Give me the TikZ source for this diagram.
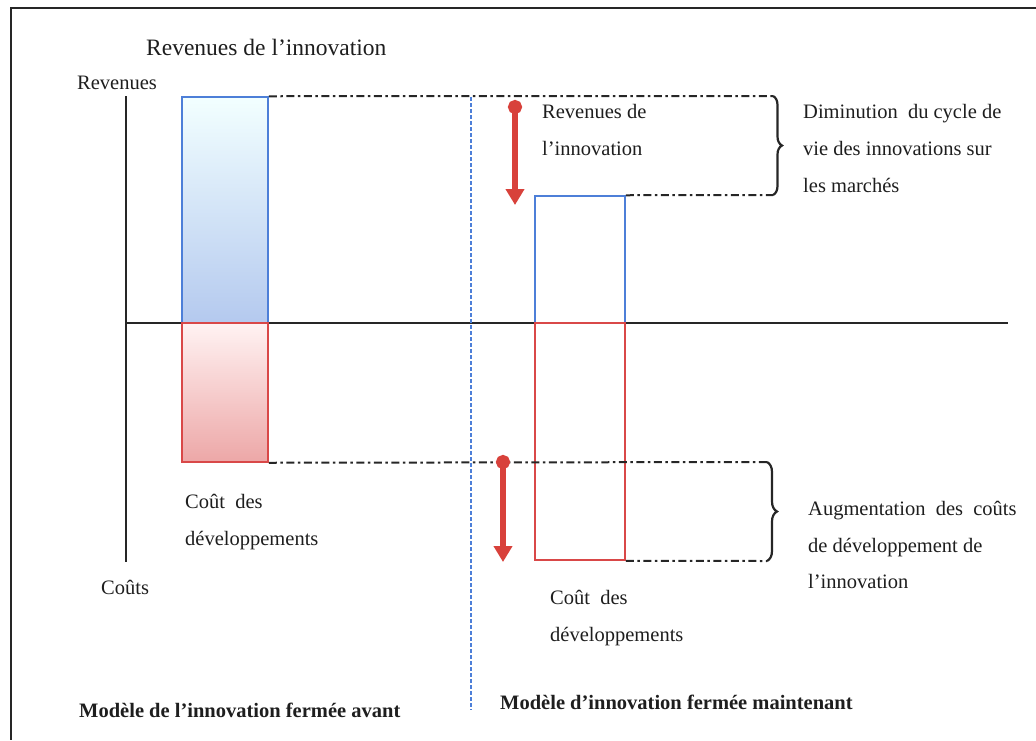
\documentclass[tikz,border=0pt]{standalone}
\usepackage{fontspec}
\setmainfont{Liberation Serif}
\usetikzlibrary{arrows.meta,decorations.pathreplacing}

\definecolor{barblue}{HTML}{4D7FD8}
\definecolor{barred}{HTML}{D94848}
\definecolor{arrowred}{HTML}{D8413B}
\definecolor{inkgray}{HTML}{1E1E1E}

\tikzset{
  txt/.style={inner sep=0pt, anchor=west, text=inkgray, align=left,
    font=\fontsize{20.5}{36.7}\selectfont},
  boldtxt/.style={txt, font=\fontsize{20.5}{24}\selectfont\bfseries},
  frameline/.style={line width=2.6pt, black!85},
  axisline/.style={line width=2.2pt, black!85},
  bluebar/.style={draw=barblue, line width=1.5pt, inner sep=0pt},
  redbar/.style={draw=barred, line width=1.5pt, inner sep=0pt},
  guide/.style={line width=2pt, black!85, dash pattern=on 8pt off 3.5pt on 2.5pt off 3.5pt},
  divider/.style={draw=barblue, line width=1.2pt, dash pattern=on 4pt off 2pt},
  bracket/.style={line width=2.2pt, black!85, decorate},
  change/.style={draw=arrowred, line width=5.5pt,
    {Circle[length=14pt,width=14pt]}-{Triangle[length=16pt,width=18pt]}},
}

\begin{document}
\begin{tikzpicture}[x=1pt,y=-1pt]
\useasboundingbox (0,0) rectangle (1036,740);

% outer frame (top and left edges)
\draw[frameline] (10,8) -- (1036,8);
\draw[frameline] (11,8) -- (11,740);

% axes
\coordinate (ytop) at (126,96);
\coordinate (ybot) at (126,562);
\coordinate (xleft) at (126,323);
\coordinate (xright) at (1008,323);
\draw[axisline] (ytop) -- (ybot);
\draw[axisline] (xleft) -- (xright);

% bars, closed model before
\node[bluebar, minimum width=86pt, minimum height=226pt,
      top color=cyan!5!white, bottom color=barblue!42!white] (revL) at (225,210) {};
\node[redbar, minimum width=86pt, minimum height=139pt,
      top color=red!5!white, bottom color=barred!48!white] (costL) at (225,392.5) {};

% bars, closed model now
\node[bluebar, minimum width=90pt, minimum height=127pt] (revR) at (580,259.5) {};
\node[redbar, minimum width=90pt, minimum height=237pt] (costR) at (580,441.5) {};

% separator between the two models
\coordinate (divtop) at (471,97);
\coordinate (divbot) at (471,710);
\draw[divider] (divtop) -- (divbot);

% braces and guide lines
\coordinate (b1top) at (773,96);
\coordinate (b1bot) at (773,195);
\coordinate (b2top) at (767,462);
\coordinate (b2bot) at (767,561);
\draw[guide] (revL.north east) -- (b1top);
\draw[guide] (revR.north east) -- (b1bot);
\draw[guide] (costL.south east) -- (b2top);
\draw[guide] (costR.south east) -- (b2bot);
\draw[bracket, decoration={brace, amplitude=9pt}] (b1top) -- (b1bot);
\draw[bracket, decoration={brace, amplitude=10pt}] (b2top) -- (b2bot);

% red arrows
\coordinate (a1s) at (515,100);
\coordinate (a1e) at (515,205);
\coordinate (a2s) at (503,455);
\coordinate (a2e) at (503,562);
\draw[change] (a1s) -- (a1e);
\draw[change] (a2s) -- (a2e);

% labels
\node[txt, font=\fontsize{23.5}{28}\selectfont] (title) at (146,47) {Revenues de l’innovation};
\node[txt] (lrev) at (77,83) {Revenues};
\node[txt] (lcost) at (101,587) {Coûts};
\node[txt] (cdL) at (185,522) {Coût~ des\\développements};
\node[txt] (rdR) at (542,130) {Revenues de\\l’innovation};
\node[txt] (cdR) at (550,618) {Coût~ des\\développements};
\node[txt] (dim) at (803,148.5) {Diminution~ du cycle de\\vie des innovations sur\\les marchés};
\node[txt] (aug) at (808,545) {Augmentation~ des~ coûts\\de développement de\\l’innovation};
\node[boldtxt] (mL) at (79,710) {Modèle de l’innovation fermée avant};
\node[boldtxt] (mR) at (500,702) {Modèle d’innovation fermée maintenant};
\end{tikzpicture}
\end{document}
